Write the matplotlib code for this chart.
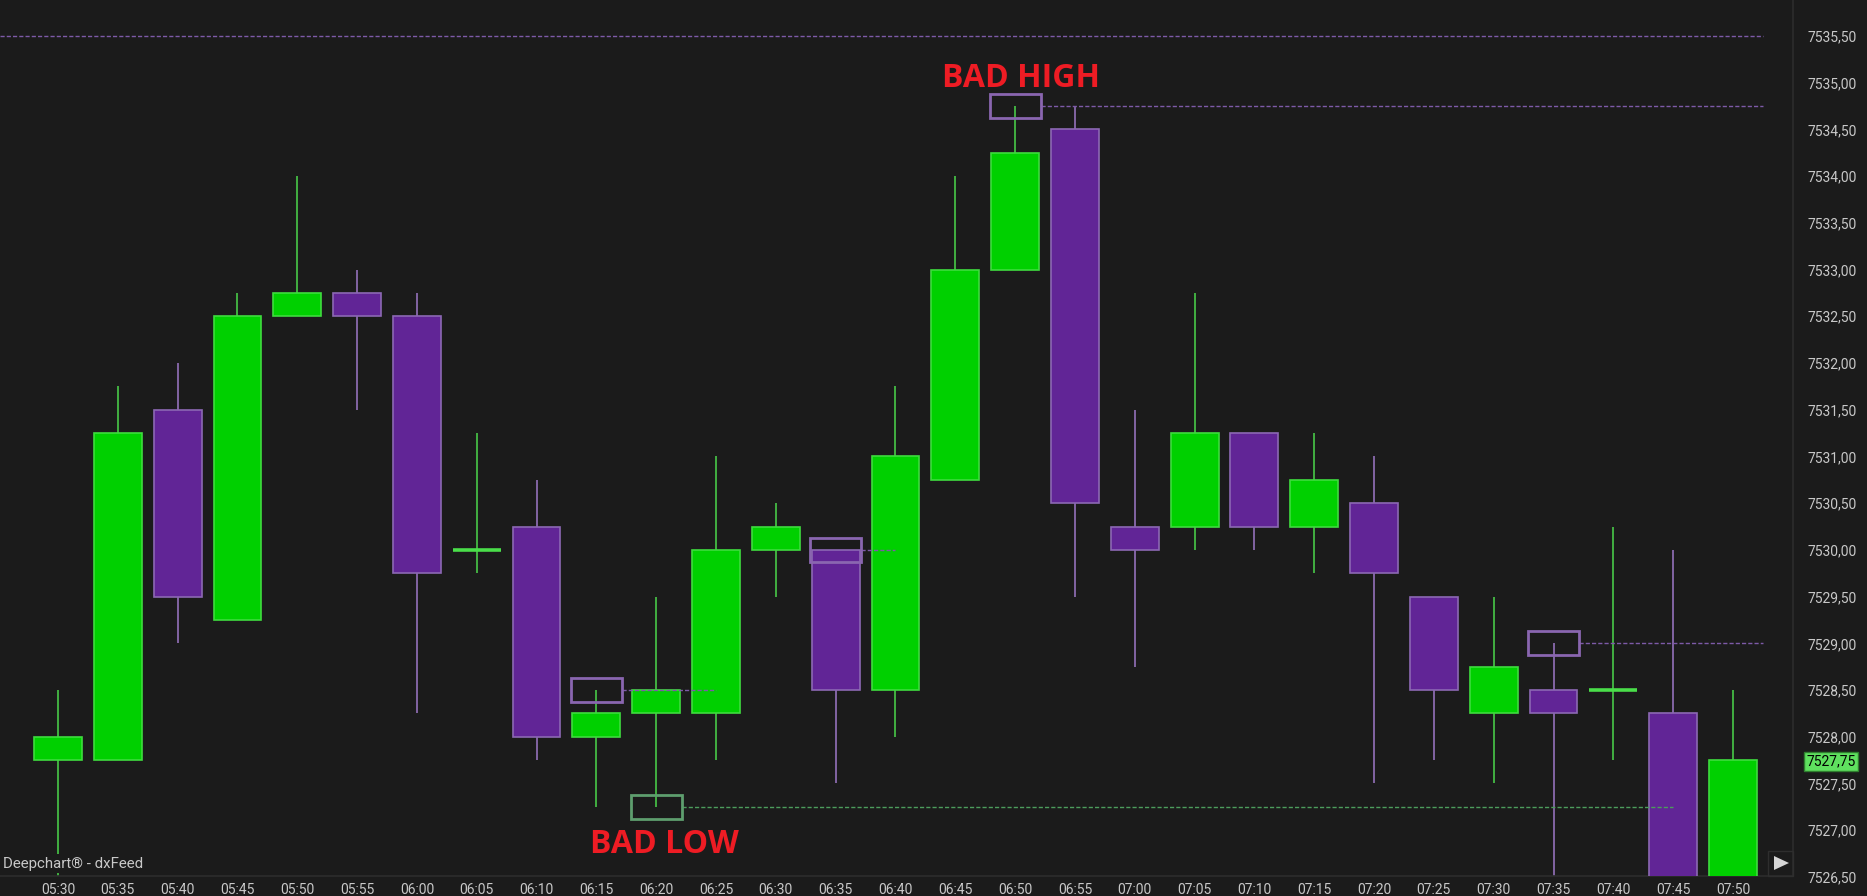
import matplotlib
matplotlib.use("Agg")
import matplotlib.pyplot as plt
import numpy as np
from matplotlib.patches import Rectangle, Polygon
from matplotlib.transforms import blended_transform_factory

# ---------------- data ----------------
times = ["05:30", "05:35", "05:40", "05:45", "05:50", "05:55", "06:00", "06:05",
         "06:10", "06:15", "06:20", "06:25", "06:30", "06:35", "06:40", "06:45",
         "06:50", "06:55", "07:00", "07:05", "07:10", "07:15", "07:20", "07:25",
         "07:30", "07:35", "07:40", "07:45", "07:50"]
opens = [7527.75, 7527.75, 7531.5, 7529.25, 7532.5, 7532.75, 7532.5, 7530.0,
         7530.25, 7528.0, 7528.25, 7528.25, 7530.0, 7530.0, 7528.5, 7530.75,
         7533.0, 7534.5, 7530.25, 7530.25, 7531.25, 7530.25, 7530.5, 7529.5,
         7528.25, 7528.5, 7528.5, 7528.25, 7526.5]
highs = [7528.5, 7531.75, 7532.0, 7532.75, 7534.0, 7533.0, 7532.75, 7531.25,
         7530.75, 7528.5, 7529.5, 7531.0, 7530.5, 7530.0, 7531.75, 7534.0,
         7534.75, 7534.75, 7531.5, 7532.75, 7531.25, 7531.25, 7531.0, 7529.5,
         7529.5, 7529.0, 7530.25, 7530.0, 7528.5]
lows = [7526.5, 7527.75, 7529.0, 7529.25, 7532.5, 7531.5, 7528.25, 7529.75,
        7527.75, 7527.25, 7527.25, 7527.75, 7529.5, 7527.5, 7528.0, 7530.75,
        7533.0, 7529.5, 7528.75, 7530.0, 7530.0, 7529.75, 7527.5, 7527.75,
        7527.5, 7526.5, 7527.75, 7526.5, 7526.5]
closes = [7528.0, 7531.25, 7529.5, 7532.5, 7532.75, 7532.5, 7529.75, 7530.0,
          7528.0, 7528.25, 7528.5, 7530.0, 7530.25, 7528.5, 7531.0, 7533.0,
          7534.25, 7530.5, 7530.0, 7531.25, 7530.25, 7530.75, 7529.75, 7528.5,
          7528.75, 7528.25, 7528.5, 7526.5, 7527.75]

y_ticks = [7526.5 + 0.5 * k for k in range(19)]
last_price = 7527.75

# marked levels: candle index, price, kind, dashed line end (candle index)
mark_idx = [9, 13, 16, 10, 25]
mark_price = [7528.5, 7530.0, 7534.75, 7527.25, 7529.0]
mark_kind = ["high", "high", "high", "low", "high"]
mark_end = [11, 14, 28.5, 27, 28.5]
top_level = 7535.5

# ---------------- style ----------------
W, H = 1867, 896
BG = "#1b1b1b"
TXT = "#c8c8c8"
G_FILL, G_EDGE, G_WICK = "#00d000", "#3edc3e", "#44bb44"
P_FILL, P_EDGE, P_WICK = "#612596", "#8c68b4", "#8a6aae"
P_LINE, G_LINE = "#7d5aa8", "#4c9c5c"
P_BOX, G_BOX = "#8a66b0", "#5e9e6e"

fig = plt.figure(figsize=(W / 100, H / 100), dpi=100, facecolor=BG)
ax = fig.add_axes([0, 20 / H, 1793 / W, 876 / H])
ax.set_facecolor(BG)

n = len(times)
x = np.arange(n)
ax.set_xlim(-58 / 59.82, (1793 - 58) / 59.82)
ax.set_ylim(7526.51, 7535.885)

# wicks
wick_cols = [G_WICK if c >= o else P_WICK for o, c in zip(opens, closes)]
ax.vlines(x, lows, highs, colors=wick_cols, lw=1.3, zorder=2)

# bodies
for xi, o, c in zip(x, opens, closes):
    if o == c:
        ax.hlines(o, xi - 0.4, xi + 0.4, colors="#4ade4a", lw=2.6, zorder=3)
    elif c > o:
        ax.bar(xi, c - o, bottom=o, width=0.8, color=G_FILL, edgecolor=G_EDGE,
               lw=1.2, zorder=3)
    else:
        ax.bar(xi, c - o, bottom=o, width=0.8, color=P_FILL, edgecolor=P_EDGE,
               lw=1.2, zorder=3)

# top dashed level
ax.hlines(top_level, ax.get_xlim()[0], 28.5, colors=P_LINE,
          linestyles=(0, (3, 1.5)), lw=1, zorder=4)

# marked boxes + dashed extension lines
for xi, p, k, e in zip(mark_idx, mark_price, mark_kind, mark_end):
    bc = P_BOX if k == "high" else G_BOX
    lc = P_LINE if k == "high" else G_LINE
    ax.add_patch(Rectangle((xi - 0.425, p - 0.13), 0.85, 0.26, fill=False,
                           ec=bc, lw=2, zorder=5))
    ax.hlines(p, xi + 0.425, e, colors=lc, linestyles=(0, (3, 1.5)), lw=1,
              zorder=4)

# annotations
ax.text(16.10, 7534.954, "BAD HIGH", ha="center", va="baseline", fontsize=23,
        family="Open Sans", weight="bold", color="#ee1c24", zorder=6)
ax.text(10.13, 7526.756, "BAD LOW", ha="center", va="baseline", fontsize=23,
        family="Open Sans", weight="bold", color="#ee1c24", zorder=6)

# x axis
ax.set_xticks(x)
ax.set_xticklabels(times, fontsize=10, family="Roboto", color=TXT)
ax.tick_params(axis="x", length=0, pad=5)
ax.set_yticks([])
for s in ["top", "left"]:
    ax.spines[s].set_visible(False)
for s in ["right", "bottom"]:
    ax.spines[s].set_color("#2c2c2c")
    ax.spines[s].set_linewidth(1.2)

# right price scale
trans = blended_transform_factory(fig.transFigure, ax.transData)
for p in y_ticks:
    ax.text(1807 / W, p, f"{p:.2f}".replace(".", ","), transform=trans,
            ha="left", va="center_baseline", fontsize=10, family="Roboto",
            color=TXT, clip_on=False)
ax.text(1806 / W, last_price, f"{last_price:.2f}".replace(".", ","),
        transform=trans, ha="left", va="center_baseline", fontsize=10,
        family="Roboto", color="black", clip_on=False, zorder=7,
        bbox=dict(boxstyle="square,pad=0.18", fc="#5fe05f", ec="#2f7f2f", lw=1))

# watermark
ax.text(3 / 1793, 14 / 876, "Deepchart\u00ae - dxFeed", transform=ax.transAxes,
        ha="left", va="center_baseline", fontsize=10.8, family="Roboto",
        color=TXT, zorder=6,
        bbox=dict(boxstyle="square,pad=0.15", fc=BG, ec="none"))

# scroll button
fig.add_artist(Rectangle((1768 / W, 1 - 876 / H), 25 / W, 25 / H,
                         transform=fig.transFigure, fill=False, ec="#2e2e2e",
                         lw=1))
fig.add_artist(Polygon([(1774 / W, 1 - 856 / H), (1774 / W, 1 - 870 / H),
                        (1789 / W, 1 - 863 / H)], closed=True,
                       transform=fig.transFigure, fc="#d6d6d6", ec="none"))

fig.savefig("out.png", dpi=100, facecolor=BG)
